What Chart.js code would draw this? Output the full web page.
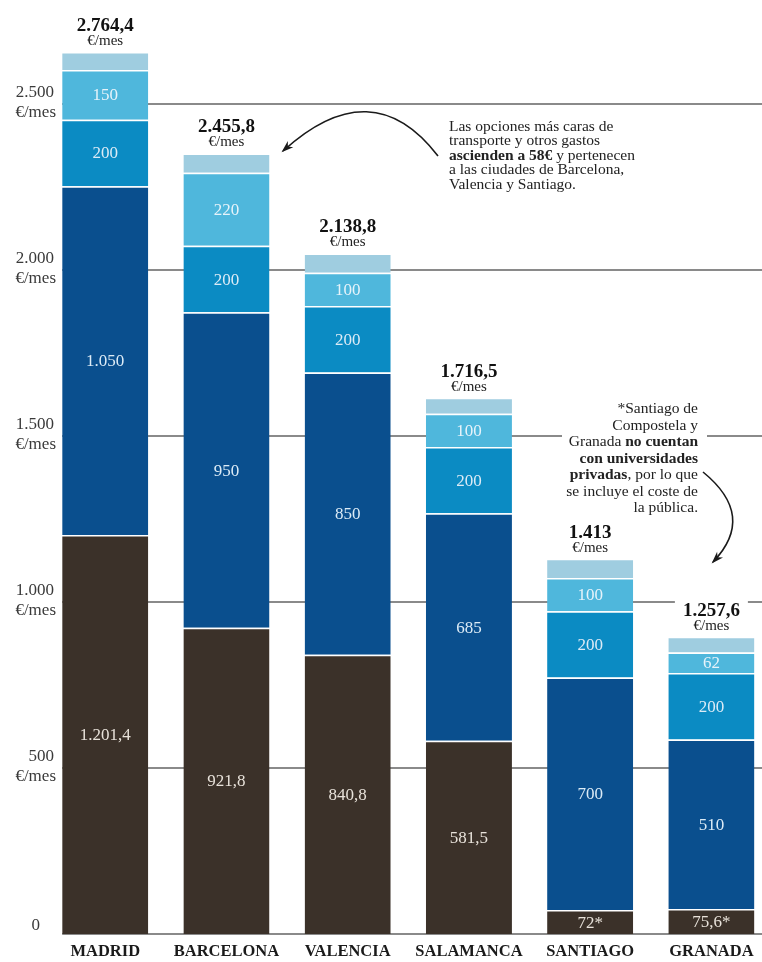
<!DOCTYPE html>
<html lang="es">
<head>
<meta charset="utf-8">
<title>Coste mensual de estudiar por ciudad</title>
<script src="https://cdn.jsdelivr.net/npm/chart.js@4.4.1/dist/chart.umd.min.js"></script>
<style>
  html, body { margin: 0; padding: 0; background: #fff; overflow: hidden; }
  #wrap { width: 772px; height: 962px; }
  canvas { display: block; }
</style>
</head>
<body>
<div id="wrap"><canvas id="myChart" width="772" height="962"></canvas></div>
<script>
      // Datos (€/mes)
      const ciudades = ['MADRID', 'BARCELONA', 'VALENCIA', 'SALAMANCA', 'SANTIAGO', 'GRANADA'];
      const universidad = [1201.4, 921.8, 840.8, 581.5, 72, 75.6];
      const alojamiento = [1050, 950, 850, 685, 700, 510];
      const manutencion = [200, 200, 200, 200, 200, 200];
      const ocio = [150, 220, 100, 100, 100, 62];
      const transporte = [54, 58, 58, 48, 58, 47];
      const totales = [2764.4, 2455.8, 2138.8, 1716.5, 1413, 1257.6];
      const soloPublica = [false, false, false, false, true, true];
      const yTicks = [0, 500, 1000, 1500, 2000, 2500];

      const SERIF = "'Liberation Serif', 'DejaVu Serif', serif";
      const fmt = v => v.toLocaleString('de-DE');

      const data = {
        labels: ciudades,
        datasets: [
          { label: 'Universidad', data: universidad, backgroundColor: '#3b3129', valueColor: '#e8e2da', showValues: true },
          { label: 'Alojamiento', data: alojamiento, backgroundColor: '#0a4f8e', valueColor: '#dcebf6', showValues: true },
          { label: 'Manutención', data: manutencion, backgroundColor: '#0b8bc3', valueColor: '#dcebf6', showValues: true },
          { label: 'Ocio', data: ocio, backgroundColor: '#4fb7dc', valueColor: '#e6f3fa', showValues: true },
          { label: 'Transporte y otros gastos', data: transporte, backgroundColor: '#9fcde0', showValues: false }
        ]
      };

      // gridlines start at the first bar, like the printed graphic;
      // y labels are drawn here too so they are not clipped by the axis box
      const gridPlugin = {
        id: 'grid_lines',
        beforeDatasetsDraw: (chart) => {
          const ctx = chart.ctx;
          const y = chart.scales.y;
          const first = chart.getDatasetMeta(0).data[0];
          const x0 = first.x - first.width / 2;
          ctx.save();
          ctx.strokeStyle = '#8a8a8a';
          ctx.lineWidth = 2;
          ctx.fillStyle = '#3a3a3a';
          ctx.font = '17px ' + SERIF;
          ctx.textAlign = 'right';
          ctx.textBaseline = 'middle';
          yTicks.forEach(v => {
            const py = Math.round(y.getPixelForValue(v));
            ctx.beginPath();
            ctx.moveTo(x0, py);
            ctx.lineTo(chart.width, py);
            ctx.stroke();
            if (v === 0) {
              ctx.fillText('0', 40, py - 8);
            } else {
              ctx.fillText(fmt(v), 54, py - 11);
              ctx.fillText('€/mes', 56, py + 9);
            }
          });
          ctx.restore();
        }
      };

      // numbers inside the segments + totals over the bars
      const labelsPlugin = {
        id: 'bar_labels',
        afterDatasetsDraw: (chart) => {
          const ctx = chart.ctx;
          ctx.save();
          ctx.textAlign = 'center';
          ctx.textBaseline = 'middle';
          ctx.font = '17px ' + SERIF;
          chart.data.datasets.forEach((ds, di) => {
            if (!ds.showValues) return;
            chart.getDatasetMeta(di).data.forEach((bar, i) => {
              let txt = fmt(ds.data[i]);
              if (di === 0 && soloPublica[i]) txt += '*';
              ctx.fillStyle = ds.valueColor;
              ctx.fillText(txt, bar.x, (bar.y + bar.base) / 2 + 1);
            });
          });

          const top = chart.getDatasetMeta(chart.data.datasets.length - 1).data;
          top.forEach((bar, i) => {
            const txt = fmt(totales[i]);
            ctx.font = 'bold 19px ' + SERIF;
            const w = ctx.measureText(txt).width;
            ctx.fillStyle = '#fff';
            ctx.fillRect(bar.x - w / 2 - 8, bar.y - 38, w + 16, 34);
            ctx.fillStyle = '#111';
            ctx.fillText(txt, bar.x, bar.y - 26);
            ctx.font = '15px ' + SERIF;
            ctx.fillStyle = '#222';
            ctx.fillText('€/mes', bar.x, bar.y - 11);
          });
          ctx.restore();
        }
      };

      function richLine(ctx, parts, x, y, align) {
        let total = 0;
        parts.forEach(p => {
          ctx.font = (p[1] ? 'bold ' : '') + '15.5px ' + SERIF;
          total += ctx.measureText(p[0]).width;
        });
        let cx = align === 'right' ? x - total : x;
        parts.forEach(p => {
          ctx.font = (p[1] ? 'bold ' : '') + '15.5px ' + SERIF;
          ctx.fillText(p[0], cx, y);
          cx += ctx.measureText(p[0]).width;
        });
      }

      function arrow(ctx, p0, c, p1) {
        ctx.beginPath();
        ctx.moveTo(p0[0], p0[1]);
        ctx.quadraticCurveTo(c[0], c[1], p1[0], p1[1]);
        ctx.stroke();
        const a = Math.atan2(p1[1] - c[1], p1[0] - c[0]);
        const s = 11;
        ctx.beginPath();
        ctx.moveTo(p1[0] + 2 * Math.cos(a), p1[1] + 2 * Math.sin(a));
        ctx.lineTo(p1[0] - s * Math.cos(a - 0.38), p1[1] - s * Math.sin(a - 0.38));
        ctx.lineTo(p1[0] - s * 0.6 * Math.cos(a), p1[1] - s * 0.6 * Math.sin(a));
        ctx.lineTo(p1[0] - s * Math.cos(a + 0.38), p1[1] - s * Math.sin(a + 0.38));
        ctx.closePath();
        ctx.fill();
      }

      const notesPlugin = {
        id: 'notes',
        afterDraw: (chart) => {
          const ctx = chart.ctx;
          ctx.save();
          ctx.textBaseline = 'middle';
          ctx.fillStyle = '#222';
          ctx.textAlign = 'left';
          const n1 = [
            [['Las opciones más caras de', false]],
            [['transporte y otros gastos', false]],
            [['ascienden a 58€', true], [' y pertenecen', false]],
            [['a las ciudades de Barcelona,', false]],
            [['Valencia y Santiago.', false]]
          ];
          n1.forEach((l, k) => richLine(ctx, l, 449, 127 + k * 14.4, 'left'));

          ctx.fillStyle = '#fff';
          ctx.fillRect(562, 398, 145, 118);
          ctx.fillStyle = '#222';
          const n2 = [
            [['*Santiago de', false]],
            [['Compostela y', false]],
            [['Granada ', false], ['no cuentan', true]],
            [['con universidades', true]],
            [['privadas', true], [', por lo que', false]],
            [['se incluye el coste de', false]],
            [['la pública.', false]]
          ];
          n2.forEach((l, k) => richLine(ctx, l, 698, 409 + k * 16.5, 'right'));

          ctx.strokeStyle = '#1a1a1a';
          ctx.fillStyle = '#1a1a1a';
          ctx.lineWidth = 1.6;
          arrow(ctx, [438, 156], [372, 70], [283, 151]);
          arrow(ctx, [703, 472], [757, 516], [713, 562]);
          ctx.restore();
        }
      };

      const config = {
        type: 'bar',
        data: data,
        options: {
          responsive: false,
          animation: false,
          layout: { padding: { top: 4, right: 0, bottom: 0, left: 0 } },
          datasets: {
            bar: {
              barPercentage: 0.71,
              categoryPercentage: 1,
              borderColor: '#ffffff',
              borderWidth: { top: 1.5, right: 0, bottom: 0, left: 0 },
              borderSkipped: false
            }
          },
          scales: {
            x: {
              stacked: true,
              grid: { display: false, drawTicks: false, tickLength: 0 },
              border: { display: false },
              ticks: { color: '#1a1a1a', padding: 8, font: { family: SERIF, size: 16.5, weight: 'bold' } },
              afterFit: (s) => { s.height = 28; }
            },
            y: {
              stacked: true,
              min: 0,
              max: 2800,
              grid: { display: false, drawTicks: false, tickLength: 0 },
              border: { display: false },
              ticks: { display: false },
              afterFit: (s) => { s.width = 44.6; }
            }
          },
          plugins: {
            legend: { display: false },
            tooltip: { enabled: false }
          }
        },
        plugins: [gridPlugin, labelsPlugin, notesPlugin]
      };

      const myChart = new Chart(document.getElementById('myChart'), config);
</script>
</body>
</html>
